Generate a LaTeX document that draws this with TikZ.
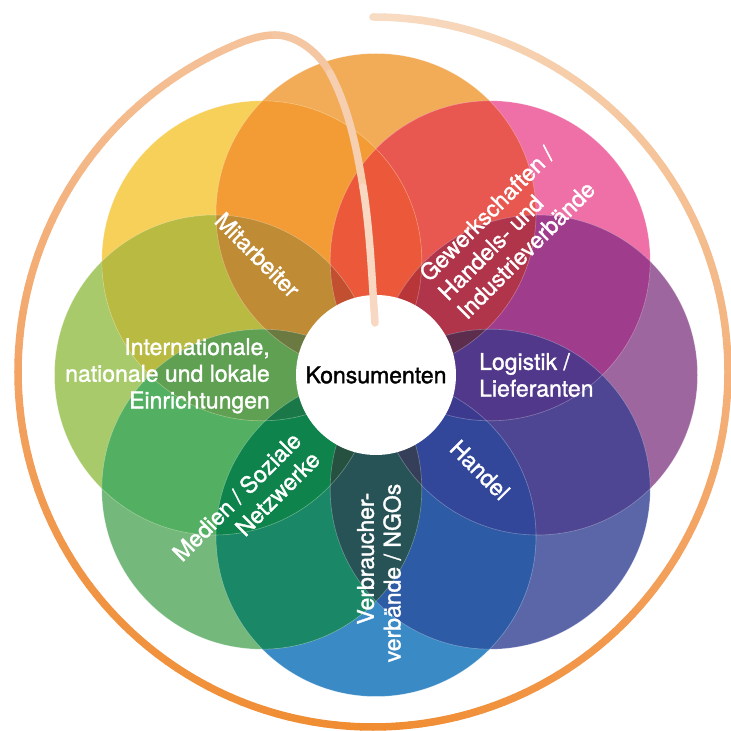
\documentclass[tikz,border=0pt]{standalone}
\usepackage{fontspec}
\setmainfont{TeX Gyre Heros}[FakeBold=1.4]
\newfontfamily\rglabelfont{TeX Gyre Heros}[FakeBold=1.4]
% singles (0=top, clockwise)
\definecolor{rgS0}{HTML}{F2AC58}
\definecolor{rgS1}{HTML}{EE70A6}
\definecolor{rgS2}{HTML}{9E669E}
\definecolor{rgS3}{HTML}{5A66A8}
\definecolor{rgS4}{HTML}{3A8AC6}
\definecolor{rgS5}{HTML}{74B87C}
\definecolor{rgS6}{HTML}{A8CA6A}
\definecolor{rgS7}{HTML}{F7D05A}
% pairs {i,i+1}
\definecolor{rgP0}{HTML}{E95850}
\definecolor{rgP1}{HTML}{A03C8C}
\definecolor{rgP2}{HTML}{4E4693}
\definecolor{rgP3}{HTML}{2E5BA6}
\definecolor{rgP4}{HTML}{1A8866}
\definecolor{rgP5}{HTML}{53B062}
\definecolor{rgP6}{HTML}{B8BA42}
\definecolor{rgP7}{HTML}{F39C36}
% triples {i-1,i,i+1}
\definecolor{rgT0}{HTML}{EC583A}
\definecolor{rgT1}{HTML}{B0344A}
\definecolor{rgT2}{HTML}{52388A}
\definecolor{rgT3}{HTML}{32479A}
\definecolor{rgT4}{HTML}{275357}
\definecolor{rgT5}{HTML}{0E844C}
\definecolor{rgT6}{HTML}{5FA052}
\definecolor{rgT7}{HTML}{BF8B35}
% quads {i..i+3}
\definecolor{rgQ0}{HTML}{5C2D4C}
\definecolor{rgQ1}{HTML}{3B3A8E}
\definecolor{rgQ2}{HTML}{363F5A}
\definecolor{rgQ3}{HTML}{265040}
\definecolor{rgQ4}{HTML}{1A7848}
\definecolor{rgQ5}{HTML}{6A7A40}
\definecolor{rgQ6}{HTML}{C24F30}
\definecolor{rgQ7}{HTML}{B83638}
% ring colours
\definecolor{rk0}{HTML}{F5C29A}
\definecolor{rk1}{HTML}{F4B888}
\definecolor{rk2}{HTML}{F3A466}
\definecolor{rk3}{HTML}{F09545}
\definecolor{rk4}{HTML}{F08C30}
\definecolor{rk5}{HTML}{F29A50}
\definecolor{rk6}{HTML}{F4B27C}
\definecolor{rk7}{HTML}{F5C8A0}
\definecolor{rk8}{HTML}{F8DCC4}
\definecolor{ic1}{HTML}{F5C29A}
\definecolor{ic2}{HTML}{F5C6A2}
\definecolor{ic3}{HTML}{F6CEB0}
\definecolor{ic4}{HTML}{F8D8C2}
\begin{document}
\begin{tikzpicture}[x=1pt,y=1pt,
  lbl/.style={text=white, font=\rglabelfont\fontsize{23}{26.7}\selectfont, inner sep=0pt},
  ringline/.style={line width=7.5pt, line cap=round},
  edgeline/.style={draw=white, draw opacity=0.3, line width=0.6pt}]
\fill[white] (0,0) rectangle (731,731);
\useasboundingbox (0,0) rectangle (731,731);
\coordinate (C) at (376,356);
\coordinate (rc) at (373,359);
\foreach \i in {0,...,7}{%
  \pgfmathsetmacro\rgAng{90-45*\i}
  \path (C) ++(\rgAng:161.5) coordinate (c\i);}
% single circles
\foreach \i in {0,...,7}{\fill[fill=rgS\i] (c\i) circle (160);}
% pair lenses
\foreach \i in {0,...,7}{%
  \pgfmathtruncatemacro\rgA{mod(\i+1,8)}
  \begin{scope}
    \clip (c\i) circle (160);
    \fill[fill=rgP\i] (c\rgA) circle (160);
  \end{scope}}
% triple regions
\foreach \i in {0,...,7}{%
  \pgfmathtruncatemacro\rgA{mod(\i+7,8)}
  \pgfmathtruncatemacro\rgB{mod(\i+1,8)}
  \begin{scope}
    \clip (c\rgA) circle (160);
    \clip (c\i) circle (160);
    \fill[fill=rgT\i] (c\rgB) circle (160);
  \end{scope}}
% quadruple regions
\foreach \i in {0,...,7}{%
  \pgfmathtruncatemacro\rgA{mod(\i+1,8)}
  \pgfmathtruncatemacro\rgB{mod(\i+2,8)}
  \pgfmathtruncatemacro\rgC{mod(\i+3,8)}
  \begin{scope}
    \clip (c\i) circle (160);
    \clip (c\rgA) circle (160);
    \clip (c\rgB) circle (160);
    \fill[fill=rgQ\i] (c\rgC) circle (160);
  \end{scope}}
% faint edges
\foreach \i in {0,...,7}{\draw[edgeline] (c\i) circle (160);}
% centre
\node[circle, fill=white, minimum size=160pt, inner sep=0pt,
      font=\rglabelfont\fontsize{23}{26.7}\selectfont] (kons) at (C) {Konsumenten};
% outer ring
\foreach \a/\b/\ca/\cb in {112/143/rk0/rk1, 143/180/rk1/rk2, 180/215/rk2/rk3,
   215/270/rk3/rk4, 270/315/rk4/rk5, 315/360/rk5/rk6, 360/405/rk6/rk7, 405/450/rk7/rk8}{%
  \pgfmathtruncatemacro\rgN{max(1,round((\b-\a)/2))}
  \foreach \rgK in {1,...,\rgN}{%
    \pgfmathsetmacro\rgSt{\a+(\b-\a)*(\rgK-1)/\rgN}
    \pgfmathsetmacro\rgEn{\a+(\b-\a)*\rgK/\rgN}
    \pgfmathtruncatemacro\rgPc{100*(\rgK-0.5)/\rgN}
    \draw[ringline, draw=\cb!\rgPc!\ca] ([shift={(\rgSt:355)}]rc)
       arc[start angle=\rgSt, end angle=\rgEn, radius=355];
  }}
% inner curve into the centre
\coordinate (q0) at (240,688.2);
\coordinate (q1) at (275,696);
\coordinate (q2) at (330,658);
\coordinate (q3) at (363,544);
\coordinate (q4) at (375,408);
\draw[ringline, draw=ic1] (q0) .. controls (251.1,692.5) and (263,696) .. (q1);
\draw[ringline, draw=ic2] (q1) .. controls (297.3,696) and (319.5,677.6) .. (q2);
\draw[ringline, draw=ic3] (q2) .. controls (348.6,623.2) and (356.7,583.1) .. (q3);
\draw[ringline, draw=ic4] (q3) .. controls (370.2,499.1) and (371.8,453.4) .. (q4);
% labels
\node[lbl, rotate=-45] (mit) at (257.5,476) {Mitarbeiter};
\node[lbl, rotate=45, align=left] (gew) at (507,500) {Gewerkschaften /\\Handels- und\\Industrieverbände};
\node[lbl, align=left, anchor=west] (log) at (479,356) {Logistik /\\Lieferanten};
\node[lbl, rotate=-45] (han) at (480,261) {Handel};
\node[lbl, rotate=90, align=right] (ver) at (379,158) {Verbraucher-\hspace*{9pt}\\verbände / NGOs};
\node[lbl, rotate=45, align=right] (med) at (246,225) {Medien / Soziale\\Netzwerke};
\node[lbl, align=right, anchor=east] (int) at (270,355.2) {Internationale,\\nationale und lokale\\Einrichtungen};
\end{tikzpicture}
\end{document}
